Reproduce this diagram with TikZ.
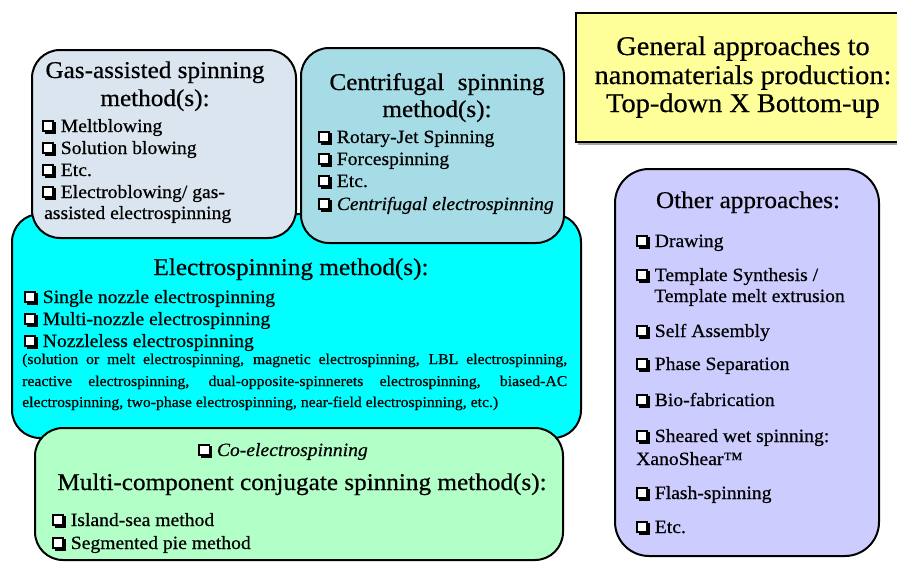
\documentclass[tikz,border=0pt]{standalone}
\usepackage{fontspec}
\setmainfont{Liberation Serif}[FakeStretch=1.05, FakeBold=0.6]
\usepackage{tikz}
\usetikzlibrary{positioning}

\definecolor{gasblue}{HTML}{DAE5EF}
\definecolor{centblue}{HTML}{A6DCE6}
\definecolor{elecyan}{HTML}{00FFFF}
\definecolor{conjgreen}{HTML}{B3FFC8}
\definecolor{genyellow}{HTML}{FFFF99}
\definecolor{othviolet}{HTML}{CCCCFF}

% small shadowed check box in front of the items
\newcommand{\cbx}{\tikz[baseline=0pt]{\fill (0.14em,-0.1em) rectangle (0.72em,0.52em);
  \filldraw[fill=white, line width=0.09em] (0.05em,0.05em) rectangle (0.6em,0.6em);}\hspace{0.28em}}

\tikzset{
  boxline/.style={draw=black, line width=2pt, rounded corners=28pt},
  headtxt/.style={font=\fontsize{24}{29}\selectfont, anchor=base, inner sep=0pt},
  itemtxt/.style={font=\fontsize{18.7}{22}\selectfont, anchor=base west, inner sep=0pt},
  smalltxt/.style={font=\fontsize{15}{21}\selectfont, anchor=base west, inner sep=0pt},
}

\begin{document}
\begin{tikzpicture}[x=1pt, y=-1pt]
\useasboundingbox (0,0) rectangle (897,562);

% boxes
\draw[boxline, fill=elecyan] (12,214) rectangle (581,438);
\draw[boxline, fill=gasblue] (32,50) rectangle (296,238);
\draw[boxline, fill=centblue] (301,48) rectangle (564,243);
\draw[boxline, fill=conjgreen] (35,428) rectangle (563,560);
\fill[black!35] (578,142) rectangle (905,145);
\draw[draw=black, line width=2pt, fill=genyellow] (576,13) rectangle (905,142);
\draw[boxline, rounded corners=34pt, fill=othviolet] (615,169) rectangle (879,556);

% gas-assisted
\node[headtxt] (gasT1) at (155,78) {Gas-assisted spinning};
\node[headtxt] (gasT2) at (155,106) {method(s):};
\node[itemtxt] (gasI1) at (42,132) {\cbx Meltblowing};
\node[itemtxt] (gasI2) at (42,154) {\cbx Solution blowing};
\node[itemtxt] (gasI3) at (42,176) {\cbx Etc.};
\node[itemtxt] (gasI4) at (42,198) {\cbx Electroblowing/ gas-};
\node[itemtxt] (gasI5) at (44,219) {assisted electrospinning};

% centrifugal
\node[headtxt] (cenT1) at (437,90) {Centrifugal\hspace{0.3em} spinning};
\node[headtxt] (cenT2) at (437,117) {method(s):};
\node[itemtxt] (cenI1) at (318,143) {\cbx Rotary-Jet Spinning};
\node[itemtxt] (cenI2) at (318,165) {\cbx Forcespinning};
\node[itemtxt] (cenI3) at (318,187) {\cbx Etc.};
\node[itemtxt] (cenI4) at (318,210) {\cbx \textit{Centrifugal electrospinning}};

% electrospinning
\node[headtxt] (eleT) at (291,275) {Electrospinning method(s):};
\node[itemtxt] (eleI1) at (24,303) {\cbx Single nozzle electrospinning};
\node[itemtxt] (eleI2) at (24,325) {\cbx Multi-nozzle electrospinning};
\node[itemtxt] (eleI3) at (24,347) {\cbx Nozzleless electrospinning};
\node[smalltxt] (eleP1) at (22,364) {\makebox[545pt][s]{(solution or melt electrospinning, magnetic electrospinning, LBL electrospinning,}};
\node[smalltxt] (eleP2) at (22,386) {\makebox[545pt][s]{reactive electrospinning, dual-opposite-spinnerets electrospinning, biased-AC}};
\node[smalltxt] (eleP3) at (22,407) {electrospinning, two-phase electrospinning, near-field electrospinning, etc.)};

% multi-component
\node[itemtxt, anchor=base] (conC) at (283,456) {\cbx \textit{Co-electrospinning}};
\node[headtxt] (conT) at (302,490) {Multi-component conjugate spinning method(s):};
\node[itemtxt] (conI1) at (52,526) {\cbx Island-sea method};
\node[itemtxt] (conI2) at (52,549) {\cbx Segmented pie method};

% general approaches
\node[headtxt, font=\fontsize{27}{29}\selectfont] (genT1) at (743,55) {General approaches to};
\node[headtxt, font=\fontsize{27}{29}\selectfont] (genT2) at (743,84) {nanomaterials production:};
\node[headtxt, font=\fontsize{27}{29}\selectfont] (genT3) at (743,112) {Top-down X Bottom-up};

% other approaches
\node[headtxt] (othT) at (748,208) {Other approaches:};
\node[itemtxt] (othI1) at (636,247) {\cbx Drawing};
\node[itemtxt] (othI2) at (636,281) {\cbx Template Synthesis /};
\node[itemtxt] (othI3) at (654,302) {Template melt extrusion};
\node[itemtxt] (othI4) at (636,337) {\cbx Self Assembly};
\node[itemtxt] (othI5) at (636,370) {\cbx Phase Separation};
\node[itemtxt] (othI6) at (636,406) {\cbx Bio-fabrication};
\node[itemtxt] (othI7) at (636,442) {\cbx Sheared wet spinning:};
\node[itemtxt] (othI8) at (636,465) {XanoShear\texttrademark};
\node[itemtxt] (othI9) at (636,499) {\cbx Flash-spinning};
\node[itemtxt] (othI10) at (636,533) {\cbx Etc.};

\end{tikzpicture}
\end{document}
